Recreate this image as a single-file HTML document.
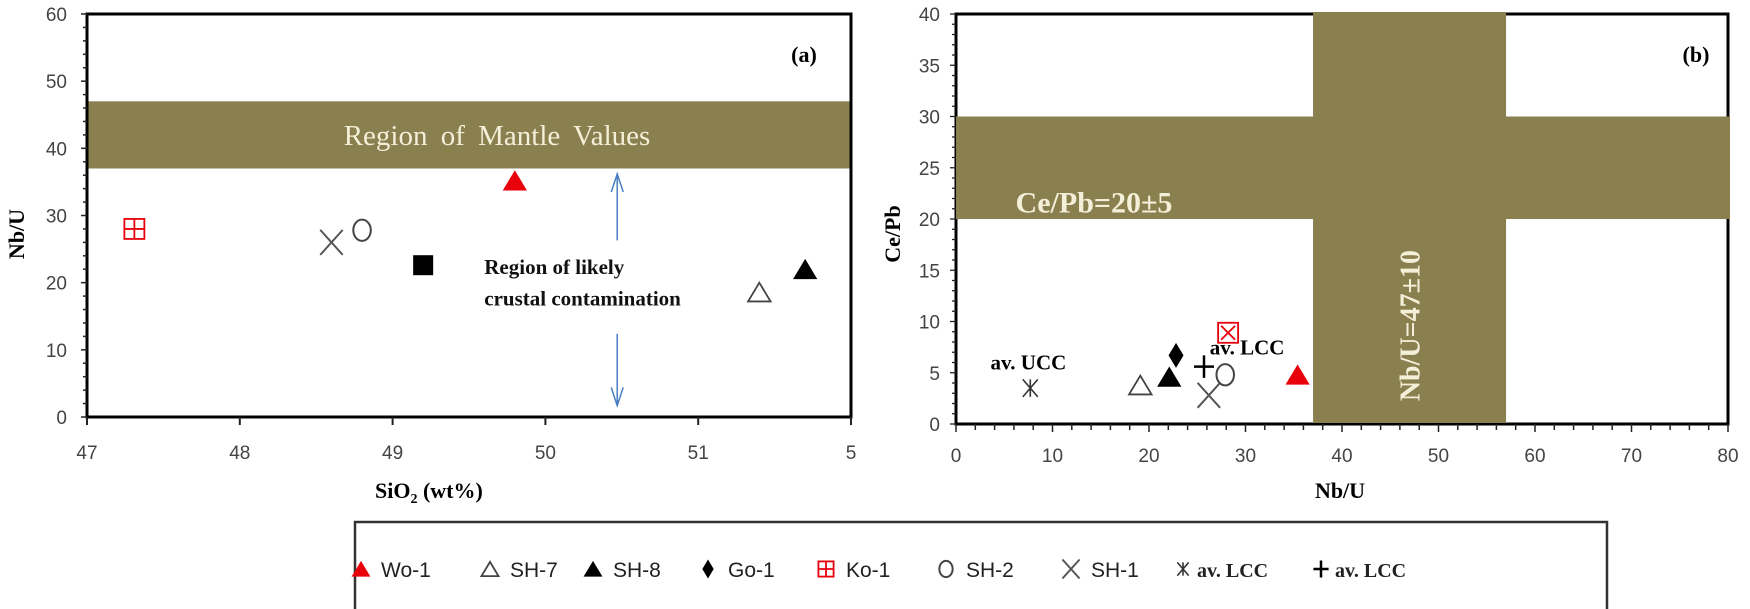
<!DOCTYPE html>
<html><head><meta charset="utf-8"><style>
html,body{margin:0;padding:0;background:#fff;}
svg{display:block;font-family:"Liberation Sans",sans-serif;}
.serif{font-family:"Liberation Serif",serif;}
</style></head><body>
<svg id="chart" width="1750" height="609" viewBox="0 0 1750 609">
<g id="pa"></g>
<g id="pb"></g>
<g id="lg"></g>
</svg>
<script>
const NS="http://www.w3.org/2000/svg";
// ---- Panel (a) data
const aXTicks=[47,48,49,50,51,52];
const aXTickLabels=["47","48","49","50","51","5"];
const aYTicks=[0,10,20,30,40,50,60];
const aNames=["Ko-1","SH-1","SH-2","SH-5","Wo-1","SH-7","SH-8"];
const aSiO2=[47.31,48.6,48.8,49.2,49.8,51.4,51.7];
const aNbU=[28,26,27.8,22.6,35.2,18.6,22];
const aMarkers=["ko","x","o","sq","trr","tro","trf"];
const aMantleBand=[37,47];
// ---- Panel (b) data
const bXTicks=[0,10,20,30,40,50,60,70,80];
const bYTicks=[0,5,10,15,20,25,30,35,40];
const bNames=["av. UCC","SH-7","SH-8","Go-1","av. LCC","SH-1","SH-2","Ko-1","Wo-1"];
const bNbU=[7.7,19.1,22.1,22.8,25.7,26.2,27.9,28.2,35.4];
const bCePb=[3.5,3.8,4.6,6.7,5.6,2.8,4.8,8.9,4.8];
const bMarkers=["ast","tro","trf","dia","plus","x","o","kox","trr"];
const bCePbBand=[20,30];
const bNbUBand=[37,57];

const OLIVE="#8a7f4f";
function el(tag,attrs,parent,text){const e=document.createElementNS(NS,tag);for(const k in attrs)e.setAttribute(k,attrs[k]);if(text!==undefined)e.textContent=text;parent.appendChild(e);return e;}

function marker(g,type,x,y,s){
  s=s||1;
  let m;
  if(type==="trr"||type==="trf"||type==="tro"){
    const h=15*s,w=9*s;
    m=el("polygon",{points:`${x},${y-h/2} ${x-w},${y+h/2} ${x+w},${y+h/2}`,fill:type==="trr"?"#e8000b":type==="trf"?"#000":"none",stroke:type==="trr"?"#e8000b":type==="tro"?"#444":"#000","stroke-width":type==="tro"?1.8:1},g);
  } else if(type==="sq"){
    m=el("rect",{x:x-8*s,y:y-8*s,width:16*s,height:16*s,fill:"#000"},g);
  } else if(type==="o"){
    m=el("ellipse",{cx:x,cy:y,rx:7*s,ry:8.5*s,fill:"none",stroke:"#444","stroke-width":2},g);
  } else if(type==="x"){
    m=el("path",{d:`M${x-9*s},${y-10*s}L${x+9*s},${y+10*s}M${x+9*s},${y-10*s}L${x-9*s},${y+10*s}`,stroke:"#555","stroke-width":2,fill:"none"},g);
  } else if(type==="ko"||type==="kox"){
    const r=8*s;
    m=el("g",{},g);
    el("rect",{x:x-r,y:y-r,width:2*r,height:2*r,fill:"none",stroke:"#e8000b","stroke-width":1.8},m);
    if(type==="ko") el("path",{d:`M${x},${y-r}V${y+r}M${x-r},${y}H${x+r}`,stroke:"#e8000b","stroke-width":1.8},m);
    else el("path",{d:`M${x-r+3},${y-r+3}L${x+r-3},${y+r-3}M${x+r-3},${y-r+3}L${x-r+3},${y+r-3}`,stroke:"#e8000b","stroke-width":1.8},m);
  } else if(type==="dia"){
    m=el("polygon",{points:`${x},${y-10*s} ${x+6*s},${y} ${x},${y+10*s} ${x-6*s},${y}`,fill:"#000"},g);
  } else if(type==="plus"){
    m=el("path",{d:`M${x},${y-9*s}V${y+9*s}M${x-8*s},${y}H${x+8*s}`,stroke:"#000","stroke-width":2.5},g);
  } else if(type==="ast"){
    m=el("path",{d:`M${x-6*s},${y-7*s}L${x+6*s},${y+7*s}M${x+6*s},${y-7*s}L${x-6*s},${y+7*s}M${x},${y-7*s}V${y+7*s}`,stroke:"#333","stroke-width":1.6},g);
  }
  return m;
}

// ---------- Panel A ----------
(function(){
  const g=document.getElementById("pa");
  const X0=87,X1=851,Y0=417,Y1=14;
  const xs=v=>X0+(v-47)/(52-47)*(X1-X0);
  const ys=v=>Y0-(v-0)/60*(Y0-Y1);
  let r=el("rect",{x:X0,y:ys(aMantleBand[1]),width:X1-X0,height:ys(aMantleBand[0])-ys(aMantleBand[1]),fill:OLIVE},g);
  
  
  let t=el("text",{x:497,y:(ys(aMantleBand[0])+ys(aMantleBand[1]))/2+10,"text-anchor":"middle","font-size":29,fill:"#f4efd8",class:"serif","word-spacing":"6"},g,"Region  of Mantle  Values");
  
  
  el("rect",{x:X0,y:Y1,width:X1-X0,height:Y0-Y1,fill:"none",stroke:"#000","stroke-width":3},g);
  for(let v=0;v<=60;v+=2){el("line",{x1:X0-(v%10===0?6:4),x2:X0,y1:ys(v),y2:ys(v),stroke:"#222","stroke-width":1.5},g);}
  aYTicks.forEach(v=>{const tt=el("text",{x:X0-20,y:ys(v)+7,"text-anchor":"end","font-size":19,fill:"#444"},g,String(v));});
  aXTicks.forEach((v,i)=>{el("line",{x1:xs(v),x2:xs(v),y1:Y0,y2:Y0+8,stroke:"#222","stroke-width":2},g);
    const tt=el("text",{x:xs(v),y:Y0+42,"text-anchor":"middle","font-size":19,fill:"#444"},g,aXTickLabels[i]);});
  const ax=xs(50.47);
  const ar=el("g",{stroke:"#4a7ec4","stroke-width":1.5,fill:"none"},g);
  
  
  el("path",{d:`M${ax},${ys(36.2)}V${ys(26.3)}M${ax-6},${ys(33.5)}L${ax},${ys(36.2)}L${ax+6},${ys(33.5)}`},ar);
  el("path",{d:`M${ax},${ys(12.4)}V${ys(1.7)}M${ax-6},${ys(4.4)}L${ax},${ys(1.7)}L${ax+6},${ys(4.4)}`},ar);
  const tl=el("text",{x:xs(49.6),y:ys(21.3),"font-size":21,"font-weight":"bold",fill:"#111",class:"serif"},g,"Region of likely");
  
  el("text",{x:xs(49.6),y:ys(16.6),"font-size":21,"font-weight":"bold",fill:"#111",class:"serif"},g,"crustal contamination");
  aNames.forEach((n,i)=>{const m=marker(g,aMarkers[i],xs(aSiO2[i]),ys(aNbU[i]),1.25);
    
    });
  el("text",{x:804,y:62,"text-anchor":"middle","font-size":22,"font-weight":"bold",class:"serif"},g,"(a)");
  const yt=el("text",{transform:"translate(24,234) rotate(-90)","text-anchor":"middle","font-size":22,"font-weight":"bold",class:"serif"},g,"Nb/U");
  
  const xt=el("text",{x:375,y:498,"font-size":22,"font-weight":"bold",class:"serif"},g);
  
  xt.innerHTML='SiO<tspan dy="5" font-size="14">2</tspan><tspan dy="-5"> (wt%)</tspan>';
})();

// ---------- Panel B ----------
(function(){
  const g=document.getElementById("pb");
  const X0=956,X1=1728,Y0=424,Y1=14;
  const xs=v=>X0+v/80*(X1-X0);
  const ys=v=>Y0-v/40*(Y0-Y1);
  el("rect",{x:X0,y:Y1,width:X1-X0,height:Y0-Y1,fill:"none",stroke:"#000","stroke-width":3},g);
  let h=el("rect",{x:X0,y:ys(bCePbBand[1]),width:X1-X0+2,height:ys(bCePbBand[0])-ys(bCePbBand[1]),fill:OLIVE},g);
  
  
  let v=el("rect",{x:xs(bNbUBand[0]),y:Y1-2,width:xs(bNbUBand[1])-xs(bNbUBand[0]),height:Y0-Y1+1,fill:OLIVE},g);
  
  
  for(let k=0;k<=40;k+=1){el("line",{x1:X0-(k%5===0?6:4),x2:X0,y1:ys(k),y2:ys(k),stroke:"#222","stroke-width":1.3},g);}
  for(let k=0;k<=80;k+=2){el("line",{x1:xs(k),x2:xs(k),y1:Y0,y2:Y0+(k%10===0?8:6),stroke:"#222","stroke-width":1.5},g);}
  bYTicks.forEach(t=>{const tt=el("text",{x:X0-16,y:ys(t)+7,"text-anchor":"end","font-size":19,fill:"#444"},g,String(t));});
  bXTicks.forEach(t=>{const tt=el("text",{x:xs(t),y:Y0+38,"text-anchor":"middle","font-size":19,fill:"#444"},g,String(t));});
  const c1=el("text",{x:xs(14.3),y:ys(21.6)+10,"text-anchor":"middle","font-size":30,"font-weight":"bold",fill:"#f4efd8",class:"serif"},g,"Ce/Pb=20±5");
  
  const c2=el("text",{transform:`translate(${xs(47)+10},${ys(9.6)}) rotate(-90)`,"text-anchor":"middle","font-size":28,"font-weight":"bold",fill:"#f4efd8",class:"serif"},g,"Nb/U=47±10");
  
  bNames.forEach((n,i)=>{const m=marker(g,bMarkers[i],xs(bNbU[i]),ys(bCePb[i]),1.25);
    
    });
  el("text",{x:xs(7.5),y:ys(5.3),"text-anchor":"middle","font-size":21,"font-weight":"bold",class:"serif"},g,"av. UCC");
  el("text",{x:xs(26.3),y:ys(6.8),"font-size":21,"font-weight":"bold",class:"serif"},g,"av. LCC");
  el("text",{x:1696,y:62,"text-anchor":"middle","font-size":22,"font-weight":"bold",class:"serif"},g,"(b)");
  el("text",{transform:"translate(900,234) rotate(-90)","text-anchor":"middle","font-size":22,"font-weight":"bold",class:"serif"},g,"Ce/Pb");
  el("text",{x:1340,y:498,"text-anchor":"middle","font-size":22,"font-weight":"bold",class:"serif"},g,"Nb/U");
})();

// ---------- Legend ----------
const legLabels=["Wo-1","SH-7","SH-8","Go-1","Ko-1","SH-2","SH-1","av. LCC","av. LCC"];
const legMarkers=["trr","tro","trf","dia","ko","o","x","ast","plus"];
(function(){
  const g=document.getElementById("lg");
  el("rect",{x:355,y:522,width:1252,height:100,fill:"none",stroke:"#333","stroke-width":2.5},g);
  const mx=[361,490,593,708,826,946,1071,1183,1321];
  legLabels.forEach((l,i)=>{
    const m=marker(g,legMarkers[i],mx[i],569,0.95);
    
    
    const bold=l.startsWith("av.");
    const t=el("text",{x:mx[i]+(bold?14:20),y:577,"font-size":bold?20:21,"font-weight":bold?"bold":"normal",fill:"#222",class:bold?"serif":""},g,l);
    
    
  });
})();
</script>
</body></html>
